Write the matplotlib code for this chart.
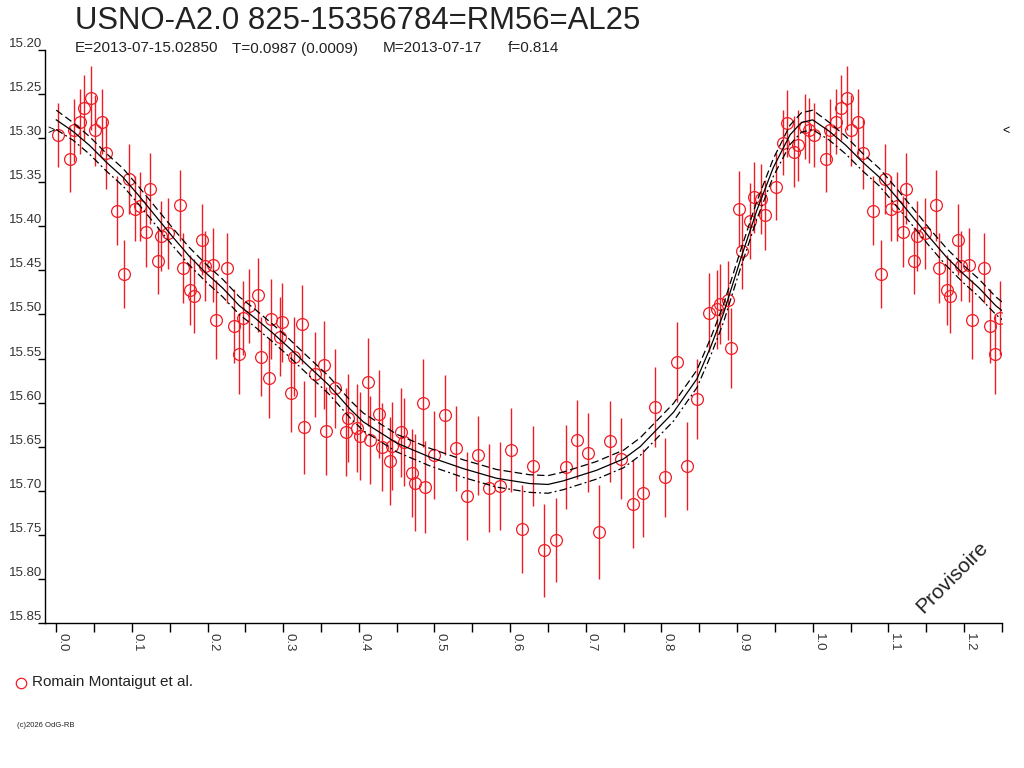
import numpy as np
import matplotlib
matplotlib.use("Agg")
import matplotlib.pyplot as plt
from matplotlib.lines import Line2D
from matplotlib.ticker import FixedLocator

plt.rcParams['font.family'] = ['Liberation Sans', 'DejaVu Sans']

# mesures repliées en phase (0..1)
phase = [0.002, 0.018, 0.023, 0.031, 0.037, 0.046, 0.051, 0.060, 0.066, 0.080,
         0.090, 0.096, 0.104, 0.111, 0.119, 0.124, 0.134, 0.138, 0.148, 0.163,
         0.167, 0.177, 0.182, 0.192, 0.196, 0.207, 0.211, 0.226, 0.235, 0.241,
         0.247, 0.255, 0.267, 0.270, 0.281, 0.284, 0.296, 0.299, 0.310, 0.314,
         0.325, 0.328, 0.342, 0.354, 0.357, 0.368, 0.383, 0.386, 0.397, 0.401,
         0.412, 0.415, 0.427, 0.430, 0.441, 0.444, 0.456, 0.460, 0.470, 0.474,
         0.485, 0.488, 0.499, 0.514, 0.529, 0.543, 0.558, 0.572, 0.587, 0.601,
         0.616, 0.630, 0.645, 0.660, 0.674, 0.689, 0.703, 0.718, 0.732, 0.747,
         0.762, 0.776, 0.791, 0.805, 0.820, 0.834, 0.847, 0.863, 0.873, 0.878,
         0.888, 0.892, 0.902, 0.907, 0.917, 0.922, 0.932, 0.937, 0.951, 0.961,
         0.966, 0.975, 0.980, 0.990, 0.995]
mag = [15.296, 15.324, 15.291, 15.281, 15.265, 15.254, 15.291, 15.281, 15.317, 15.382,
       15.454, 15.346, 15.380, 15.377, 15.406, 15.357, 15.439, 15.411, 15.408, 15.376,
       15.447, 15.472, 15.479, 15.415, 15.445, 15.444, 15.506, 15.447, 15.513, 15.545,
       15.504, 15.490, 15.478, 15.548, 15.572, 15.505, 15.525, 15.509, 15.589, 15.548,
       15.511, 15.628, 15.568, 15.557, 15.632, 15.584, 15.633, 15.618, 15.629, 15.638,
       15.577, 15.643, 15.613, 15.651, 15.666, 15.649, 15.634, 15.645, 15.680, 15.691,
       15.601, 15.696, 15.660, 15.614, 15.652, 15.706, 15.660, 15.697, 15.695, 15.654,
       15.744, 15.672, 15.768, 15.756, 15.673, 15.642, 15.657, 15.747, 15.644, 15.664,
       15.715, 15.703, 15.605, 15.685, 15.554, 15.672, 15.596, 15.498, 15.494, 15.488,
       15.484, 15.538, 15.380, 15.428, 15.394, 15.367, 15.369, 15.387, 15.355, 15.305,
       15.283, 15.315, 15.308, 15.287, 15.291]
err = [0.036, 0.037, 0.036, 0.037, 0.037, 0.036, 0.040, 0.037, 0.040, 0.039,
       0.039, 0.040, 0.037, 0.039, 0.040, 0.040, 0.038, 0.040, 0.040, 0.040,
       0.040, 0.040, 0.042, 0.040, 0.040, 0.042, 0.045, 0.040, 0.042, 0.045,
       0.042, 0.042, 0.042, 0.045, 0.045, 0.045, 0.045, 0.045, 0.045, 0.045,
       0.045, 0.053, 0.048, 0.050, 0.050, 0.045, 0.050, 0.050, 0.050, 0.050,
       0.050, 0.050, 0.050, 0.050, 0.050, 0.050, 0.050, 0.050, 0.050, 0.055,
       0.050, 0.052, 0.050, 0.045, 0.048, 0.050, 0.045, 0.050, 0.050, 0.048,
       0.050, 0.045, 0.053, 0.048, 0.048, 0.045, 0.045, 0.053, 0.046, 0.046,
       0.050, 0.050, 0.045, 0.045, 0.045, 0.050, 0.045, 0.045, 0.045, 0.045,
       0.045, 0.045, 0.043, 0.043, 0.043, 0.040, 0.040, 0.040, 0.038, 0.037,
       0.038, 0.040, 0.040, 0.037, 0.037]

# courbe ajustée et demi-largeur de l'enveloppe
fit_phase = [0.000, 0.022, 0.044, 0.066, 0.088, 0.110, 0.132, 0.154, 0.176, 0.198,
             0.220, 0.242, 0.264, 0.286, 0.308, 0.330, 0.360, 0.389, 0.406, 0.450,
             0.494, 0.538, 0.582, 0.626, 0.650, 0.670, 0.714, 0.750, 0.772, 0.816,
             0.847, 0.865, 0.882, 0.904, 0.926, 0.948, 0.970, 0.985]
fit_mag = [15.279, 15.292, 15.308, 15.327, 15.344, 15.366, 15.389, 15.412, 15.434, 15.453,
           15.470, 15.490, 15.505, 15.521, 15.538, 15.556, 15.580, 15.608, 15.622, 15.646,
           15.662, 15.675, 15.686, 15.692, 15.693, 15.689, 15.677, 15.664, 15.650, 15.611,
           15.573, 15.537, 15.499, 15.439, 15.382, 15.333, 15.296, 15.282]
fit_band = [0.011, 0.010, 0.010, 0.010, 0.010, 0.010, 0.010, 0.010, 0.010, 0.010,
            0.010, 0.010, 0.010, 0.010, 0.010, 0.010, 0.010, 0.010, 0.010, 0.010,
            0.010, 0.010, 0.010, 0.010, 0.010, 0.010, 0.010, 0.010, 0.010, 0.010,
            0.010, 0.010, 0.010, 0.010, 0.010, 0.010, 0.011, 0.011]

mean_mag = 15.292
title = "USNO-A2.0 825-15356784=RM56=AL25"
subtitle = ["E=2013-07-15.02850", "T=0.0987 (0.0009)", "M=2013-07-17", "f=0.814"]
observer = "Romain Montaigut et al."

red = '#f01c24'

# répétition de la phase 0..0.25 au-delà de 1
ph = np.array(phase)
mg = np.array(mag)
er = np.array(err)
rep = ph < 0.25
ph_all = np.concatenate([ph, ph[rep] + 1])
mg_all = np.concatenate([mg, mg[rep]])
er_all = np.concatenate([er, er[rep]])

fp = np.array(fit_phase + [1.0])
fm = np.array(fit_mag + [fit_mag[0]])
fb = np.array(fit_band + [fit_band[0]])
fp_all = np.concatenate([fp, fp[1:] + 1])
fm_all = np.concatenate([fm, fm[1:]])
fb_all = np.concatenate([fb, fb[1:]])

fig = plt.figure(figsize=(10.24, 7.68), dpi=100)
W, H = 1024, 768
ax = fig.add_axes([44.5 / W, (H - 622.7) / H, (1001.8 - 44.5) / W, (622.7 - 50.3) / H])

ax.errorbar(ph_all, mg_all, yerr=er_all, fmt='o', mfc='none', mec=red, ecolor=red,
            elinewidth=1.0, mew=0.9, ms=8.5, capsize=0, zorder=2)

ax.plot(fp_all, fm_all, color='black', lw=0.9, zorder=3)
ax.plot(fp_all, fm_all - fb_all, color='black', lw=0.9, ls=(0, (6, 3)), zorder=3)
ax.plot(fp_all, fm_all + fb_all, color='black', lw=0.9, ls=(0, (6, 2.5, 1.5, 2.5)), zorder=3)

ax.set_xlim(-0.0156, 1.25)
ax.set_ylim(15.85, 15.20)

for s in ['top', 'right']:
    ax.spines[s].set_visible(False)
for s in ['left', 'bottom']:
    ax.spines[s].set_linewidth(1.0)

xt = np.round(np.arange(0, 1.21, 0.1), 2)
ax.xaxis.set_major_locator(FixedLocator(xt))
ax.xaxis.set_minor_locator(FixedLocator(np.round(np.arange(0.05, 1.26, 0.1), 2)))
ax.set_xticklabels(['%.1f' % v for v in xt], rotation=-90, ha='left', va='top',
                   fontsize=9.5, color='#333333')
ax.tick_params(axis='x', which='both', direction='out', length=6.5, width=1, pad=1)

yt = np.round(np.arange(15.20, 15.851, 0.05), 2)
ax.yaxis.set_major_locator(FixedLocator(yt))
ax.set_yticklabels(['%.2f' % v for v in yt], fontsize=9.5, color='#333333', va='bottom')
ax.tick_params(axis='y', which='major', direction='out', length=5, width=1, pad=-3.0)

# repères de magnitude moyenne
ax.text(-0.0075, mean_mag, '>', fontsize=9, ha='center', va='center', clip_on=False)
ax.text(1.255, mean_mag, '<', fontsize=9, ha='center', va='center', clip_on=False)

fig.text(75 / W, 1 - 21 / H, title, fontsize=22.4, ha='left', va='center', color='#222222')
for txt, xpx in zip(subtitle, [75, 232, 383, 508]):
    fig.text(xpx / W, 1 - 48.5 / H, txt, fontsize=11, ha='left', va='center', color='#222222')

fig.text(952 / W, 1 - 577 / H, 'Provisoire', fontsize=15, rotation=45,
         ha='center', va='center', color='#222222')

fig.add_artist(Line2D([21 / W], [1 - 683 / H], marker='o', mfc='none', mec=red, mew=0.9,
                      ms=7.5, transform=fig.transFigure))
fig.text(32 / W, 1 - 682 / H, observer, fontsize=11, ha='left', va='center', color='#222222')
fig.text(17 / W, 1 - 725.5 / H, '(c)2026 OdG-RB', fontsize=5.5, ha='left', va='center',
         color='#222222')

fig.savefig('out.png', dpi=100)
